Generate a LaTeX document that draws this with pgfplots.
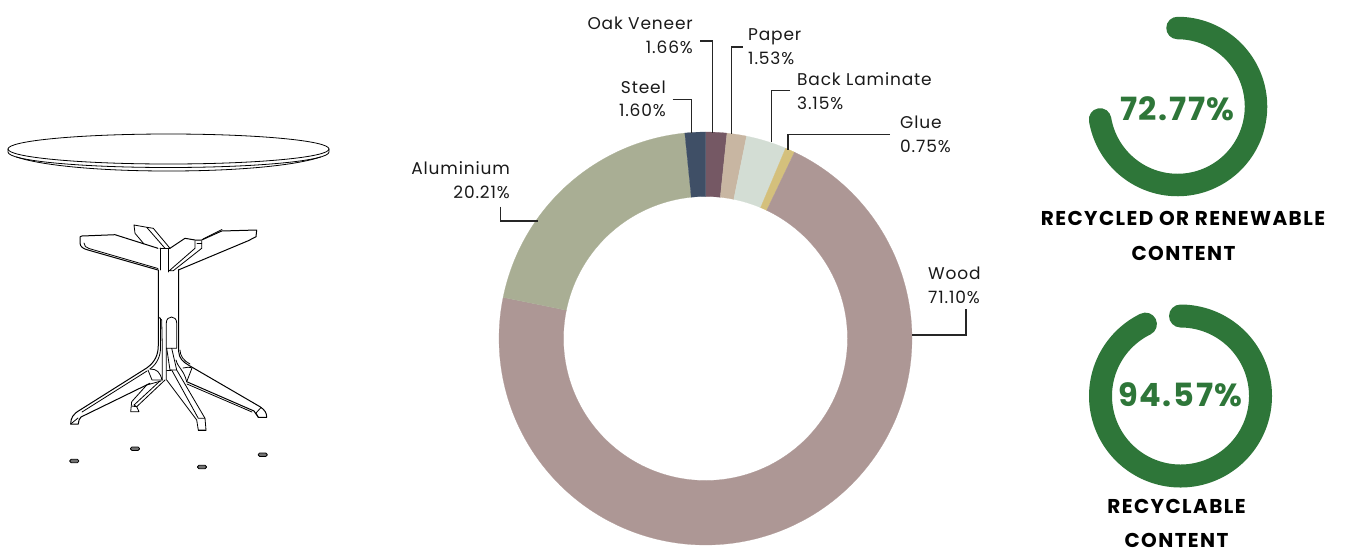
\documentclass[border=0pt]{standalone}
\usepackage{fontspec}
\usepackage{pgfplots}
\pgfplotsset{compat=1.18}
\setmainfont[LetterSpace=5]{Poppins}
\newfontfamily\headfont[LetterSpace=5]{Poppins}
\newfontfamily\capfont[LetterSpace=7]{Poppins}
\definecolor{cOak}{HTML}{755864}
\definecolor{cPaper}{HTML}{C8B6A2}
\definecolor{cBack}{HTML}{D3DDD4}
\definecolor{cGlue}{HTML}{D4C07C}
\definecolor{cWood}{HTML}{AD9795}
\definecolor{cAlu}{HTML}{A9AE94}
\definecolor{cSteel}{HTML}{3F4F66}
\definecolor{cGreen}{HTML}{2E7639}
\newcommand{\buildarc}[5]{%
  \pgfmathtruncatemacro\nn{max(2,ceil(abs(#5-#4)/1.5))}%
  \pgfmathsetmacro\stp{(#5-#4)/\nn}%
  \foreach \i in {0,...,\nn}{%
    \pgfmathsetmacro\aa{#4+\stp*\i}%
    \pgfmathsetmacro\px{#1+#3*sin(\aa)}%
    \pgfmathsetmacro\py{#2-#3*cos(\aa)}%
    \xdef\pts{\pts (\px,\py)}%
  }}
\gdef\cum{0}
\newcommand{\slice}[2]{%
  \pgfmathsetmacro\aS{\cum*3.6}%
  \pgfmathsetmacro\aE{(\cum+#1)*3.6}%
  \gdef\pts{}%
  \buildarc{705.5}{338.5}{206.5}{\aS}{\aE}%
  \buildarc{705.5}{338.5}{142}{\aE}{\aS}%
  \edef\cmd{\noexpand\addplot[fill=#2,draw=#2,line width=.2pt] coordinates {\pts} -- cycle;}\cmd
  \pgfmathsetmacro\nc{\cum+#1}\xdef\cum{\nc}}
\newcommand{\gauge}[5]{%
  \gdef\pts{}%
  \buildarc{#1}{#2}{#3}{0}{#4}%
  \edef\cmd{\noexpand\addplot[draw=cGreen,line width=#5pt,line cap=round,line join=round] coordinates {\pts};}\cmd}
\begin{document}
\begin{tikzpicture}
\begin{axis}[hide axis,scale only axis,width=1346pt,height=550pt,
  xmin=0,xmax=1346,ymin=0,ymax=550,y dir=reverse,clip=false,no markers]
\path (0,0) rectangle (1346,550);
% donut: shares in percent, clockwise from the top
\slice{1.66}{cOak}
\slice{1.53}{cPaper}
\slice{3.15}{cBack}
\slice{0.75}{cGlue}
\slice{71.10}{cWood}
\slice{20.21}{cAlu}
\slice{1.60}{cSteel}
% gauges
\gauge{1177.5}{106.5}{78.5}{260.5}{22.5}
\gauge{1180.5}{396}{80}{334}{23}
% leaders
\begin{scope}[line width=1.2pt,black!85]
\draw (672.7,99.7)--(691.3,99.7)--(691.3,133);
\draw (700,41)--(712.3,41)--(712.3,133);
\draw (742.7,47)--(731.3,47)--(731.3,134);
\draw (790,90.5)--(771.7,90.5)--(771.7,142);
\draw (890,134.5)--(788,134.5)--(788,150);
\draw (500.7,206.7)--(500.7,221)--(538,221);
\draw (966,309)--(966,335)--(912,335);
\end{scope}
% labels
\begin{scope}[every node/.style={font=\fontsize{17}{18}\selectfont,text=black!90,inner sep=0pt}]
\node[anchor=base east] at (693,29.3) {Oak Veneer};
\node[anchor=base east] at (693,53.3) {1.66\%};
\node[anchor=base east] at (666,93.3) {Steel};
\node[anchor=base east] at (666,116.7) {1.60\%};
\node[anchor=base east] at (510,174) {Aluminium};
\node[anchor=base east] at (510,198) {20.21\%};
\node[anchor=base west] at (748,40) {Paper};
\node[anchor=base west] at (748,64) {1.53\%};
\node[anchor=base west] at (797,85) {Back Laminate};
\node[anchor=base west] at (797,109) {3.15\%};
\node[anchor=base west] at (900,128) {Glue};
\node[anchor=base west] at (900,152) {0.75\%};
\node[anchor=base west] at (928,279) {Wood};
\node[anchor=base west] at (928,303) {71.10\%};
\end{scope}
\begin{scope}[every node/.style={inner sep=0pt,anchor=base}]
\node[text=cGreen,font=\headfont\bfseries\fontsize{32}{34}\selectfont] at (1177.5,120.7) {72.77\%};
\node[text=cGreen,font=\headfont\bfseries\fontsize{32}{38}\selectfont] at (1180.5,406.7) {94.57\%};
\node[font=\capfont\bfseries\fontsize{20}{22}\selectfont] at (1183,225.7) {RECYCLED OR RENEWABLE};
\node[font=\capfont\bfseries\fontsize{20}{22}\selectfont] at (1183.5,260) {CONTENT};
\node[font=\capfont\bfseries\fontsize{20}{22}\selectfont] at (1176.5,513.3) {RECYCLABLE};
\node[font=\capfont\bfseries\fontsize{20}{22}\selectfont] at (1176.5,547) {CONTENT};
\end{scope}
% table illustration
\begin{scope}[line width=.8pt,black,line join=round,line cap=round]
% top
\draw (8,149) .. controls (8,140.7) and (79.9,134) .. (168.5,134) .. controls (257.1,134) and (329,140.7) .. (329,149)
      .. controls (329,157.3) and (257.1,164) .. (168.5,164) .. controls (79.9,164) and (8,157.3) .. (8,149);
\draw (8,149)--(8,152) .. controls (8,160.7) and (79.9,167.5) .. (168.5,167.5) .. controls (257.1,167.5) and (329,160.7) .. (329,152)--(329,149);
\draw (16.5,157) .. controls (40,165) and (95,171) .. (168.5,171) .. controls (242,171) and (297,165) .. (320.5,157);
% left arm
\draw[line width=1pt] (158,248.3)--(115,234.7)--(82,236) .. controls (80,236) and (80,237) .. (80,238)--(80,243) .. controls (80,247) and (84,249) .. (88,250)--(158,270);
\draw (84,243) .. controls (84,246) and (86,247.5) .. (89,248.5)--(158,268.5);
% back arm
\draw (144,244)--(135,233.3)--(134,225)--(147,227.3)--(153.3,228.3)--(170,248.3);
\draw (146.7,227.3)--(165,248.3);
% post head
\draw (160,248)--(170,248);
\draw (160,248)--(160,270);
\draw (168.5,248)--(168.5,272);
% right arm
\draw[line width=1pt] (170,248.3)--(185,238.3)--(195,240)--(201.7,240)--(221.7,231)--(256.7,230)--(256,236.7)--(248.3,240.7)--(178.3,270);
\draw (203,239)--(222,229.5);
\draw (195,240.7)--(195,248.3)--(169.3,270.7)--(173.3,270.7)--(201.7,248.3)--(201.7,240.7);
\draw (197,243.5)--(201.7,243.5);
% stem and left leg
\draw[line width=1pt] (158.3,270)--(158.3,345) .. controls (158.3,355) and (155,362) .. (146.7,368)--(80,410) .. controls (73,414) and (70.7,418) .. (70.7,424)--(78.3,424) .. controls (79,420) and (79,419) .. (81,417)--(150,383.3);
\draw (147,371)--(82,412);
\draw (78,418)--(70.7,424);
\draw (158.3,316.7)--(161.7,320)--(162.3,348)--(162.3,380);
\draw (160.5,318)--(160.5,348) .. controls (160.5,356) and (157,364) .. (150,369);
% centre slot
\draw (166.3,380)--(166.3,323) .. controls (166.3,315) and (176.7,315) .. (176.7,323)--(176.7,348.3)--(166.3,348.3);
% right leg
\draw[line width=1pt] (178.7,270)--(178.7,351.7) .. controls (179,358) and (183,362) .. (188.3,365)--(260,406.7) .. controls (265,410) and (266.7,413) .. (266.7,417.3)--(258.3,417.3) .. controls (256,415) and (256,413) .. (254,411)--(186.7,381.7);
\draw (180,350) .. controls (180,356) and (184,361) .. (190,364);
\draw (187,384)--(252,412);
\draw (258.3,417.3)--(256,413)--(261,407.5);
% front leg
\draw (166.7,380)--(196.7,420)--(198.3,430)--(206,430)--(205,418.3)--(176.7,370)--(171.7,348.3);
\draw (171.7,370)--(198.3,418.3)--(205,418.3);
\draw (166.7,348.3)--(170,370)--(176.7,370);
\draw (166.7,370)--(171,370);
\draw (198.3,430)--(206,430);
% rear left leg
\draw (165,380)--(136.7,406.7)--(139,411.7)--(130.7,411.7)--(131.7,401.7)--(146.7,385)--(161,381);
\draw (160,381)--(134,405)--(136.7,406.7);
\draw (131.7,406)--(136.7,406.7);
% joints
\draw (148,370)--(152,380)--(162.3,380);
\draw (150,369) .. controls (157,369) and (160,372) .. (162,380);
\draw (183,368) .. controls (186,367) and (190,367) .. (192,368)--(186.7,381.7);
\draw (176,360) .. controls (178,368) and (184,370) .. (186.7,381.7);
% feet
\draw[rounded corners=1.4pt,fill=black!55] (69.8,459.3) rectangle (78.8,462.7);
\draw[rounded corners=1.4pt,fill=black!55] (130.5,447) rectangle (139.5,450.4);
\draw[rounded corners=1.4pt,fill=black!55] (258.2,453) rectangle (267.2,456.4);
\draw[rounded corners=1.4pt,fill=black!55] (197.5,465.3) rectangle (206.5,468.7);
\end{scope}
\end{axis}
\end{tikzpicture}
\end{document}
